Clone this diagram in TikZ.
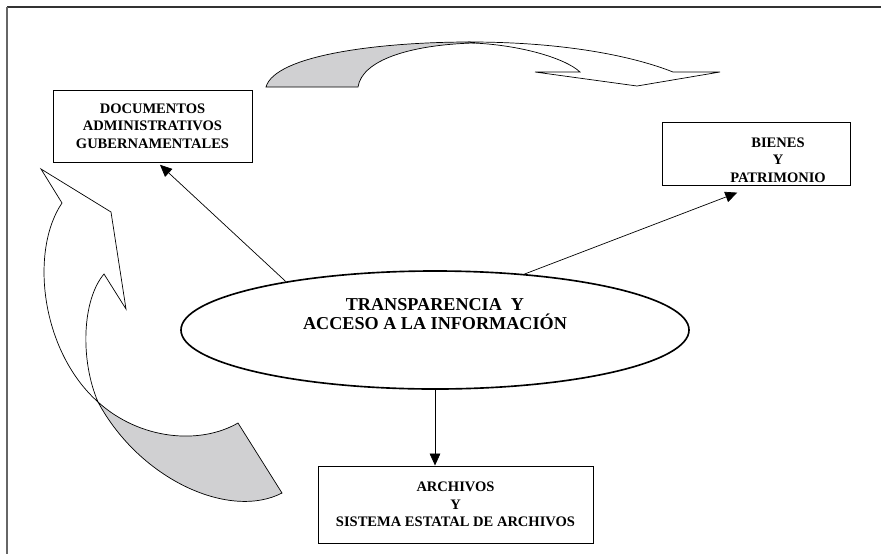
\documentclass[tikz,border=0pt]{standalone}
\usepackage{fontspec}
\setmainfont{Liberation Serif}
\usetikzlibrary{shapes.geometric,arrows.meta}
\definecolor{ribbongray}{RGB}{208,208,210}
\tikzset{
    box/.style={draw, line width=0.8pt, align=center, inner sep=0pt,
        font=\fontsize{12.4}{15}\selectfont\bfseries},
    boxtext/.style={align=center, inner sep=0pt,
        font=\fontsize{12.4}{15}\selectfont\bfseries},
    link/.style={-{Triangle[length=3.6mm,width=3.2mm]}, line width=0.6pt},
    ribbon/.style={draw, line width=0.6pt, line join=miter},
}

\begin{document}
\begin{tikzpicture}[x=0.03cm, y=-0.03cm]
    \useasboundingbox (0,0) rectangle (881,554);
    % frame
    \draw[line width=1.6pt, black!80] (7,7) -- (881,7);
    \draw[line width=1.6pt, black!60] (7,7) -- (7,554);
    % centre
    \node[ellipse, draw, line width=1.4pt, minimum width=15.24cm,
        minimum height=3.54cm, inner sep=0pt] (trans) at (435,330) {};
    \node[align=center, inner sep=0pt, font=\fontsize{15.5}{15.8}\selectfont\bfseries]
        (transtext) at (435,314) {TRANSPARENCIA~ Y\\ACCESO A LA INFORMACIÓN};
    % boxes
    \node[box, minimum width=5.97cm, minimum height=2.16cm] (docs) at (152.5,126)
        {DOCUMENTOS\\ADMINISTRATIVOS\\GUBERNAMENTALES};
    \node[box, minimum width=5.64cm, minimum height=1.89cm] (bienes) at (756,153.5) {};
    \node[boxtext] (bienestext) at (778,160) {BIENES\\Y\\PATRIMONIO};
    \node[box, minimum width=8.25cm, minimum height=2.31cm] (archivos) at (455.5,504.5)
        {ARCHIVOS\\Y\\SISTEMA ESTATAL DE ARCHIVOS};
    % links
    \draw[link, shorten >=1mm] (trans.162.5) -- ([xshift=0.15cm]docs.south);
    \draw[link, shorten >=6mm] (trans.32.5) -- (bienes.south);
    \draw[link] (trans.south) -- (trans.south |- archivos.north);
    % top ribbon arrow
    \draw[ribbon, fill=white] (470,42) .. controls (560,42) and (630,55) .. (673,72)
        -- (720,72) -- (637,86) -- (535,72) -- (580,72)
        .. controls (565,58) and (520,45) .. (473,43) -- cycle;
    \draw[ribbon, fill=ribbongray] (266,87) .. controls (275,55) and (380,42) .. (470,42)
        -- (473,43) .. controls (410,45) and (362,60) .. (358,87) -- cycle;
    % left ribbon arrow
    \draw[ribbon, fill=white] (41,169) -- (62,203)
        .. controls (30,250) and (40,350) .. (98,402)
        .. controls (80,360) and (82,300) .. (104,274)
        -- (126,309) -- (111,212) -- cycle;
    \draw[ribbon, fill=ribbongray] (98,402) .. controls (140,440) and (200,445) .. (238,423)
        -- (282,493) .. controls (230,520) and (140,480) .. (98,402) -- cycle;
\end{tikzpicture}
\end{document}
